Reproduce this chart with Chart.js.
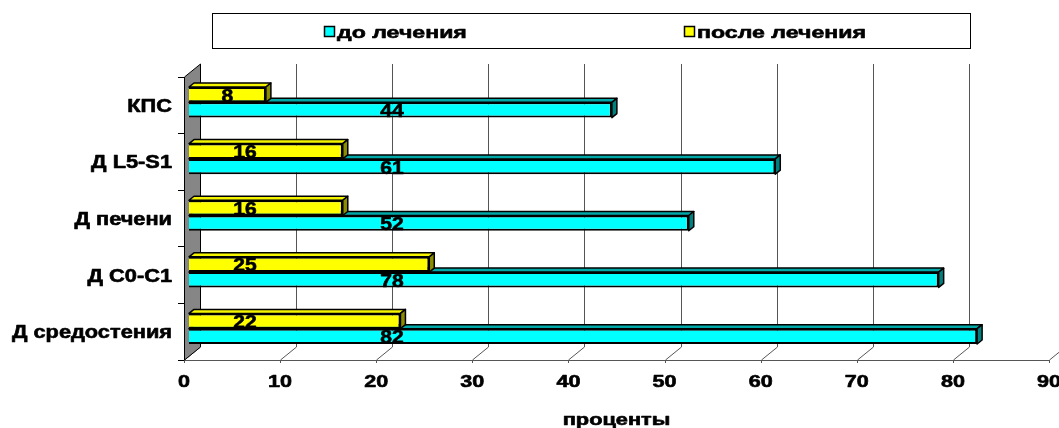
<!DOCTYPE html>
<html>
<head>
<meta charset="utf-8">
<title>до и после лечения</title>
<script src="https://cdn.jsdelivr.net/npm/chart.js@4/dist/chart.umd.min.js"></script>
<style>
  html, body { margin: 0; padding: 0; background: #ffffff; }
  #wrap { width: 1059px; height: 428px; position: relative; }
</style>
</head>
<body>
<div id="wrap"><canvas id="chart"></canvas></div>
<script>
// ---- data ----
const categories = ['КПС', 'Д L5-S1', 'Д печени', 'Д C0-C1', 'Д средостения'];
const beforeValues = [44, 61, 52, 78, 82];   // до лечения
const afterValues = [8, 16, 16, 25, 22];     // после лечения
const seriesNames = ['до лечения', 'после лечения'];
const xTickValues = [0, 10, 20, 30, 40, 50, 60, 70, 80, 90];
const axisTitle = 'проценты';

// ---- look ----
const FONT = 'Arial, "Liberation Sans", sans-serif';
const WALL = { dx: 16, dy: -13 };      // depth of the back wall
const BAR_SHIFT = { dx: 5, dy: -3 };   // bars stand a little behind the front edge
const BAR_DEPTH = { dx: 5, dy: -4 };
const TEXT = {
  category: { size: 18, sx: 1.21 },
  tick: { size: 17, sx: 1.27 },
  value: { size: 18, sx: 1.17 },
  title: { size: 16, sx: 1.36 },
  legend: { size: 17, sx: 1.36 }
};

function wideText(ctx, text, x, y, align, style) {
  ctx.save();
  ctx.font = 'bold ' + style.size + 'px ' + FONT;
  ctx.textAlign = align;
  ctx.textBaseline = 'alphabetic';
  ctx.fillStyle = '#000';
  ctx.strokeStyle = '#000';
  ctx.lineWidth = 0.6;
  ctx.lineJoin = 'round';
  ctx.translate(x, y);
  ctx.scale(style.sx, 1);
  ctx.fillText(text, 0, 0);
  ctx.strokeText(text, 0, 0);
  ctx.restore();
}

function wideWidth(ctx, text, style) {
  ctx.save();
  ctx.font = 'bold ' + style.size + 'px ' + FONT;
  const w = ctx.measureText(text).width * style.sx;
  ctx.restore();
  return w;
}

function poly(ctx, pts, fill, lw) {
  ctx.beginPath();
  ctx.moveTo(pts[0][0], pts[0][1]);
  for (let i = 1; i < pts.length; i++) ctx.lineTo(pts[i][0], pts[i][1]);
  ctx.closePath();
  ctx.fillStyle = fill;
  ctx.fill();
  ctx.lineWidth = lw || 1;
  ctx.lineJoin = 'round';
  ctx.strokeStyle = '#000';
  ctx.stroke();
}

const box3d = {
  id: 'box3d',
  beforeDatasetsDraw(chart) {
    const ctx = chart.ctx;
    const a = chart.chartArea;
    const xs = chart.scales.x;
    ctx.save();
    // back wall gridlines
    ctx.strokeStyle = '#555';
    ctx.lineWidth = 1;
    xTickValues.forEach(v => {
      const x = Math.round(xs.getPixelForValue(v)) + 0.5;
      ctx.beginPath();
      ctx.moveTo(x + WALL.dx, a.top + WALL.dy);
      ctx.lineTo(x + WALL.dx, a.bottom + WALL.dy);
      ctx.stroke();
      // floor edge ticks
      ctx.beginPath();
      ctx.moveTo(x, a.bottom + 3);
      ctx.lineTo(x, a.bottom);
      ctx.lineTo(x + WALL.dx, a.bottom + WALL.dy);
      ctx.stroke();
    });
    // grey side wall
    const l = a.left + 0.5;
    poly(ctx, [[l, a.bottom], [l, a.top], [l + WALL.dx, a.top + WALL.dy], [l + WALL.dx, a.bottom + WALL.dy]], '#868686', 1);
    ctx.restore();
    ctx.save();
    ctx.translate(BAR_SHIFT.dx, BAR_SHIFT.dy);
  },
  afterDatasetDraw(chart, args) {
    const ctx = chart.ctx;
    const ds = chart.data.datasets[args.index];
    args.meta.data.forEach(el => {
      const p = el.getProps(['x', 'y', 'base', 'height'], true);
      const left = Math.min(p.base, p.x), right = Math.max(p.base, p.x);
      const top = p.y - p.height / 2, bottom = p.y + p.height / 2;
      const d = BAR_DEPTH;
      poly(ctx, [[left, top], [right, top], [right + d.dx, top + d.dy], [left + d.dx, top + d.dy]], ds.topColor, 1.5);
      poly(ctx, [[right, top], [right + d.dx, top + d.dy], [right + d.dx, bottom + d.dy], [right, bottom]], ds.sideColor, 1.5);
    });
  },
  afterDatasetsDraw(chart) {
    const ctx = chart.ctx;
    // value labels on the bar faces
    chart.data.datasets.forEach((ds, i) => {
      const meta = chart.getDatasetMeta(i);
      meta.data.forEach((el, j) => {
        const p = el.getProps(['x', 'y', 'base'], true);
        const half = (p.x - p.base) / 2;
        const cx = p.base + Math.min(half, ds.labelReach);
        wideText(ctx, String(ds.data[j]), cx, p.y + 7, 'center', TEXT.value);
      });
    });
    ctx.restore();
  },
  afterDraw(chart) {
    const ctx = chart.ctx;
    const a = chart.chartArea;
    const xs = chart.scales.x;
    const ys = chart.scales.y;
    // category labels
    categories.forEach((c, i) => {
      wideText(ctx, c, a.left - 12, ys.getPixelForValue(i) + 6.5, 'right', TEXT.category);
    });
    // value axis labels
    xTickValues.forEach(v => {
      wideText(ctx, String(v), xs.getPixelForValue(v), a.bottom + 27, 'center', TEXT.tick);
    });
    // axis title
    wideText(ctx, axisTitle, (a.left + a.right) / 2, 425, 'center', TEXT.title);

    // legend box
    const lx = 212, ly = 13, lw = 758, lh = 35;
    ctx.save();
    ctx.strokeStyle = '#000';
    ctx.lineWidth = 1;
    ctx.strokeRect(lx + 0.5, ly + 0.5, lw, lh);
    ctx.restore();
    const legendOrder = [1, 0]; // до лечения, после лечения
    legendOrder.forEach((di, k) => {
      const ds = chart.data.datasets[di];
      const tw = wideWidth(ctx, ds.label, TEXT.legend);
      const itemW = 10 + 3 + tw;
      const colStart = lx + k * lw / 2;
      const x0 = Math.round(colStart + (lw / 2 - itemW) / 2) - 6;
      ctx.save();
      ctx.fillStyle = ds.backgroundColor;
      ctx.fillRect(x0 + 0.5, 26.5, 10, 10);
      ctx.strokeStyle = '#000';
      ctx.lineWidth = 1.5;
      ctx.strokeRect(x0 + 0.5, 26.5, 10, 10);
      ctx.restore();
      wideText(ctx, ds.label, x0 + 13, 37.5, 'left', TEXT.legend);
    });
  }
};

new Chart(document.getElementById('chart'), {
  type: 'bar',
  data: {
    labels: categories,
    datasets: [
      {
        label: seriesNames[1],
        data: afterValues,
        backgroundColor: '#ffff00',
        topColor: '#f4f400',
        sideColor: '#8c8c00',
        borderColor: '#000',
        borderWidth: 2,
        labelReach: 56,
        clip: false
      },
      {
        label: seriesNames[0],
        data: beforeValues,
        backgroundColor: '#00ffff',
        topColor: '#00a8a8',
        sideColor: '#007f7f',
        borderColor: '#000',
        borderWidth: 2,
        labelReach: 203,
        clip: false
      }
    ]
  },
  options: {
    indexAxis: 'y',
    responsive: true,
    maintainAspectRatio: false,
    animation: false,
    devicePixelRatio: 1,
    layout: { padding: { left: 0, right: 10, top: 77, bottom: 0 } },
    datasets: { bar: { categoryPercentage: 0.54, barPercentage: 1 } },
    plugins: { legend: { display: false }, tooltip: { enabled: false } },
    scales: {
      x: {
        type: 'linear',
        min: 0,
        max: 90,
        ticks: { display: false, stepSize: 10 },
        grid: { display: false },
        border: { display: true, color: '#555', width: 1 },
        afterFit(s) { s.height = 68; }
      },
      y: {
        ticks: { display: false },
        grid: { display: true, drawOnChartArea: false, drawTicks: true, tickLength: 6, color: '#000', offset: true },
        border: { display: true, color: '#000', width: 1 },
        afterFit(s) { s.width = 184; }
      }
    }
  },
  plugins: [box3d]
});
</script>
</body>
</html>
